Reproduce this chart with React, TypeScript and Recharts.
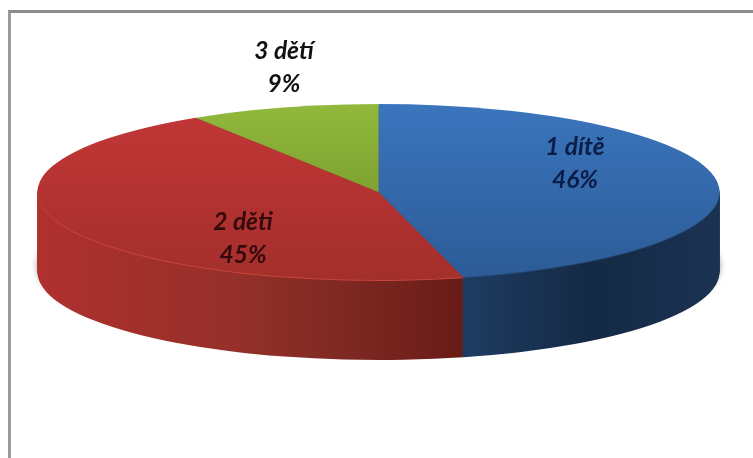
import React from 'react';
import { PieChart, Pie, Cell } from 'recharts';

const categories = ['1 dítě', '2 děti', '3 dětí'];
const shares = [46, 45, 9];

const chartData = categories.map((name, i) => ({ name, value: shares[i] }));

// the flat pie is squashed with a css transform to get the tilted look
const squash = 88 / 341;
const pieX = 378.5;
const pieY = 192 / squash;
const radius = 341;
const depth = 80;
const wallLayers = Array.from({ length: depth }, (_, i) => depth - i);

const topFills = ['url(#topBlue)', 'url(#topRed)', 'url(#topGreen)'];
const wallFills = ['url(#wallBlue)', 'url(#wallRed)', '#5f7a28'];
const rimFills = ['#22466f', '#c9443c', '#5f7a28'];
const labelInk = ['#0a1c48', '#34090c', '#111111'];
// label spots by hand, like the manually dragged labels in the original
const labelSpots = [
  { x: 575, y: 149 },
  { x: 243, y: 224 },
  { x: 284, y: 53 },
];

const renderLabel = ({ index, name, percent }: any) => {
  const spot = labelSpots[index];
  return (
    <g transform={`translate(${spot.x}, ${spot.y / squash}) scale(1, ${1 / squash})`}>
      <text
        textAnchor="middle"
        dominantBaseline="middle"
        fontFamily="Lato, sans-serif"
        fontSize={24.5}
        fontWeight={700}
        fontStyle="italic"
        fill={labelInk[index]}
      >
        <tspan x={0} y={0}>{name}</tspan>
        <tspan x={0} y={33}>{`${Math.round(percent * 100)}%`}</tspan>
      </text>
    </g>
  );
};

export default function App() {
  return (
    <div style={{ position: 'absolute', left: 0, top: 0, width: 753, height: 458, overflow: 'hidden', background: '#fff' }}>
      <div style={{ position: 'absolute', left: 8, top: 10, right: 0, bottom: 0, borderTop: '3px solid #8b8b8b', borderLeft: '3px solid #9a9a9a' }} />
      <div style={{ position: 'absolute', left: 0, top: 0, transform: `scaleY(${squash})`, transformOrigin: '0 0' }}>
        <PieChart width={753} height={458 / squash} margin={{ top: 0, right: 0, bottom: 0, left: 0 }}>
          <defs>
            <linearGradient id="topBlue" gradientUnits="userSpaceOnUse" x1="0" y1={104 / squash} x2="0" y2={280 / squash}>
              <stop offset="0" stopColor="#3b75bd" />
              <stop offset="1" stopColor="#2c5b96" />
            </linearGradient>
            <linearGradient id="topRed" gradientUnits="userSpaceOnUse" x1="0" y1={118 / squash} x2="0" y2={280 / squash}>
              <stop offset="0" stopColor="#c13636" />
              <stop offset="1" stopColor="#a32f2b" />
            </linearGradient>
            <linearGradient id="topGreen" gradientUnits="userSpaceOnUse" x1="0" y1={104 / squash} x2="0" y2={190 / squash}>
              <stop offset="0" stopColor="#92b93c" />
              <stop offset="1" stopColor="#7ea332" />
            </linearGradient>
            <linearGradient id="wallRed" gradientUnits="userSpaceOnUse" x1="37" y1="0" x2="463" y2="0">
              <stop offset="0" stopColor="#b0302e" />
              <stop offset="0.45" stopColor="#96302a" />
              <stop offset="0.75" stopColor="#7c2721" />
              <stop offset="1" stopColor="#691b16" />
            </linearGradient>
            <linearGradient id="wallBlue" gradientUnits="userSpaceOnUse" x1="463" y1="0" x2="720" y2="0">
              <stop offset="0" stopColor="#1e3c62" />
              <stop offset="0.5" stopColor="#142945" />
              <stop offset="1" stopColor="#1b3252" />
            </linearGradient>
            <filter id="softShadow" x="-5%" y="-20%" width="110%" height="140%">
              <feGaussianBlur stdDeviation={`3 ${3 / squash}`} />
            </filter>
          </defs>
          <Pie
            data={chartData}
            dataKey="value"
            cx={pieX}
            cy={pieY + 74 / squash}
            outerRadius={radius}
            startAngle={90}
            endAngle={-270}
            fill="#000"
            fillOpacity={0.45}
            stroke="none"
            filter="url(#softShadow)"
            isAnimationActive={false}
          />
          {wallLayers.map((d) => (
            <Pie
              key={d}
              data={chartData}
              dataKey="value"
              cx={pieX}
              cy={pieY + d / squash}
              outerRadius={radius}
              startAngle={90}
              endAngle={-270}
              stroke="none"
              isAnimationActive={false}
            >
              {chartData.map((_, i) => (
                <Cell key={i} fill={d === 1 ? rimFills[i] : wallFills[i]} />
              ))}
            </Pie>
          ))}
          <Pie
            data={chartData}
            dataKey="value"
            cx={pieX}
            cy={pieY}
            outerRadius={radius}
            startAngle={90}
            endAngle={-270}
            stroke="none"
            label={renderLabel}
            labelLine={false}
            isAnimationActive={false}
          >
            {chartData.map((_, i) => (
              <Cell key={i} fill={topFills[i]} />
            ))}
          </Pie>
        </PieChart>
      </div>
    </div>
  );
}
